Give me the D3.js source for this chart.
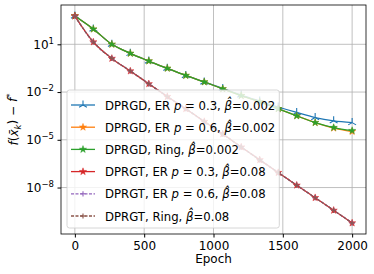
<!doctype html>
<html lang="en">
<head>
<meta charset="UTF-8">
<title>chart</title>
<script src="https://d3js.org/d3.v7.min.js"></script>
<style>
 body{margin:0;background:#fff;}
 text{font-family:"DejaVu Sans",sans-serif;}
</style>
</head>
<body>
<div id="myDiv"></div>
<script>
// data
var epochs = [0, 133.3, 266.7, 400, 533.3, 666.7, 800, 933.3, 1066.7, 1200, 1333.3, 1466.7, 1600, 1733.3, 1866.7, 2000];
var dprgdEr03 = [6.0e2, 9.1e1, 1.0e1, 2.7, 8.9e-1, 3.1e-1, 1.1e-1, 4.3e-2, 1.7e-2, 6.5e-3, 2.7e-3, 1.15e-3, 5.2e-4, 2.5e-4, 1.55e-4, 1.2e-4];
var dprgdEr06 = [6.0e2, 9.1e1, 1.0e1, 2.7, 8.9e-1, 3.1e-1, 1.1e-1, 4.3e-2, 1.6e-2, 6.0e-3, 2.4e-3, 8.9e-4, 3.2e-4, 1.2e-4, 5.4e-5, 3.3e-5];
var dprgdRing = [6.0e2, 9.1e1, 1.0e1, 2.7, 8.9e-1, 3.1e-1, 1.1e-1, 4.3e-2, 1.6e-2, 6.0e-3, 2.4e-3, 8.9e-4, 3.2e-4, 1.2e-4, 5.9e-5, 3.8e-5];
var dprgtEr03 = [6.0e2, 1.4e1, 1.3, 2.1e-1, 3.3e-2, 5.2e-3, 8.9e-4, 1.4e-4, 2.3e-5, 3.5e-6, 5.5e-7, 8.7e-8, 1.4e-8, 2.3e-9, 3.7e-10, 5.9e-11];
var dprgtEr06 = [6.0e2, 1.4e1, 1.3, 2.1e-1, 3.3e-2, 5.2e-3, 8.9e-4, 1.4e-4, 2.3e-5, 3.5e-6, 5.5e-7, 8.7e-8, 1.4e-8, 2.3e-9, 3.7e-10, 5.9e-11];
var dprgtRing = [6.0e2, 1.4e1, 1.3, 2.1e-1, 3.3e-2, 5.2e-3, 8.9e-4, 1.4e-4, 2.3e-5, 3.5e-6, 5.5e-7, 8.7e-8, 1.4e-8, 2.3e-9, 3.7e-10, 5.9e-11];

var xTicks = [0, 500, 1000, 1500, 2000];
var yTicks = [1e1, 1e-2, 1e-5, 1e-8];

var series = [
  {name: ["DPRGD, ER ", "p", " = 0.3, ", "β̂", "=0.002"], values: dprgdEr03, color: "#1f77b4", marker: "tri", dash: null},
  {name: ["DPRGD, ER ", "p", " = 0.6, ", "β̂", "=0.002"], values: dprgdEr06, color: "#ff7f0e", marker: "star", dash: null},
  {name: ["DPRGD, Ring, ", "", "", "β̂", "=0.002"], values: dprgdRing, color: "#2ca02c", marker: "star", dash: null},
  {name: ["DPRGT, ER ", "p", " = 0.3, ", "β̂", "=0.08"], values: dprgtEr03, color: "#d62728", marker: "star", dash: null},
  {name: ["DPRGT, ER ", "p", " = 0.6, ", "β̂", "=0.08"], values: dprgtEr06, color: "#9467bd", marker: "plus", dash: "3,1.5"},
  {name: ["DPRGT, Ring, ", "", "", "β̂", "=0.08"], values: dprgtRing, color: "#8c564b", marker: "plus", dash: "3,1.5"}
];

var W = 374, H = 274;
var margin = {left: 61, right: 8, top: 5, bottom: 40};
var width = W - margin.left - margin.right;
var height = H - margin.top - margin.bottom;
var fs = 12;

var svg = d3.select("#myDiv").append("svg")
  .attr("width", W).attr("height", H);
var g = svg.append("g").attr("transform", "translate(" + margin.left + "," + margin.top + ")");

var xScale = d3.scaleLinear().domain([-100, 2100]).range([0, width]);
var yScale = d3.scaleLog().domain([Math.pow(10, -10.92), Math.pow(10, 3.47)]).range([height, 0]);

// grid
g.selectAll(".gx").data(xTicks).enter().append("line")
  .attr("x1", function(d){ return xScale(d); }).attr("x2", function(d){ return xScale(d); })
  .attr("y1", 0).attr("y2", height)
  .attr("stroke", "#b0b0b0").attr("stroke-width", 0.8);
g.selectAll(".gy").data(yTicks).enter().append("line")
  .attr("y1", function(d){ return yScale(d); }).attr("y2", function(d){ return yScale(d); })
  .attr("x1", 0).attr("x2", width)
  .attr("stroke", "#b0b0b0").attr("stroke-width", 0.8);

// marker symbols
function markerPath(type, s) {
  if (type === "tri") {
    return "M0,0L0," + (-s) + "M0,0L" + (-s*0.87) + "," + (s*0.5) + "M0,0L" + (s*0.87) + "," + (s*0.5);
  }
  if (type === "plus") {
    return "M" + (-s) + ",0L" + s + ",0M0," + (-s) + "L0," + s;
  }
  return d3.symbol().type(d3.symbolStar).size(s * s * 2.2)();
}
function markerSize(type) {
  return type === "tri" ? 4.5 : (type === "plus" ? 2.6 : 2.7);
}

var line = d3.line()
  .x(function(d){ return xScale(d[0]); })
  .y(function(d){ return yScale(d[1]); })
  .curve(d3.curveMonotoneX);

series.forEach(function(s) {
  var pts = epochs.map(function(e, i){ return [e, s.values[i]]; });
  g.append("path").datum(pts)
    .attr("d", line)
    .attr("fill", "none")
    .attr("stroke", s.color)
    .attr("stroke-width", 1.3)
    .attr("stroke-dasharray", s.dash);
  g.selectAll(null).data(pts).enter().append("path")
    .attr("transform", function(d){ return "translate(" + xScale(d[0]) + "," + yScale(d[1]) + ")"; })
    .attr("d", markerPath(s.marker, markerSize(s.marker)))
    .attr("fill", s.marker === "star" ? s.color : "none")
    .attr("stroke", s.color)
    .attr("stroke-width", s.marker === "star" ? 0.5 : 1.1);
});

// axes
var xAxis = d3.axisBottom(xScale).tickValues(xTicks).tickSize(3.5).tickPadding(3.5).tickFormat(d3.format("d"));
var gx = g.append("g").attr("transform", "translate(0," + height + ")").call(xAxis);
gx.select(".domain").remove();
gx.selectAll("text").attr("font-size", fs).attr("fill", "#000").attr("font-family", "DejaVu Sans");

var yAxis = d3.axisLeft(yScale).tickValues(yTicks).tickSize(3.5).tickPadding(3.5).tickFormat(function(){ return ""; });
var gy = g.append("g").call(yAxis);
gy.select(".domain").remove();
gy.selectAll(".tick text").each(function(d) {
  var t = d3.select(this).attr("font-size", fs).attr("fill", "#000").attr("font-family", "DejaVu Sans");
  t.text(null);
  t.append("tspan").text("10");
  t.append("tspan").attr("font-size", 8.5).attr("dy", "-0.6em").text(String(Math.round(Math.log10(d))).replace("-", "−"));
});

// frame
g.append("rect").attr("width", width).attr("height", height)
  .attr("fill", "none").attr("stroke", "#000").attr("stroke-width", 0.8);

// labels
svg.append("text").attr("x", margin.left + width / 2).attr("y", 263)
  .attr("text-anchor", "middle").attr("font-size", fs).text("Epoch");

var yl = svg.append("text").attr("transform", "translate(18," + (margin.top + height / 2) + ") rotate(-90)")
  .attr("text-anchor", "middle").attr("font-size", fs);
yl.append("tspan").attr("font-style", "italic").text("f");
yl.append("tspan").text("(");
yl.append("tspan").attr("font-style", "italic").text("x̄");
yl.append("tspan").attr("font-style", "italic").attr("font-size", 8.5).attr("dy", "0.3em").text("k");
yl.append("tspan").attr("dy", "-0.3em").text(") − ");
yl.append("tspan").attr("font-style", "italic").text("f");
yl.append("tspan").attr("font-size", 8.5).attr("dy", "-0.5em").text("*");

// legend
var lfs = 11.7;
var lg = svg.append("g").attr("transform", "translate(67,90)");
var box = lg.append("rect").attr("height", 138).attr("rx", 2.5)
  .attr("fill", "#fff").attr("fill-opacity", 0.8).attr("stroke", "#cccccc").attr("stroke-width", 0.8);
var maxW = 0;
series.forEach(function(s, i) {
  var y = 15 + i * 22.2;
  lg.append("line").attr("x1", 4).attr("x2", 28).attr("y1", y).attr("y2", y)
    .attr("stroke", s.color).attr("stroke-width", 1.3).attr("stroke-dasharray", s.dash);
  lg.append("path").attr("transform", "translate(16," + y + ")")
    .attr("d", markerPath(s.marker, markerSize(s.marker)))
    .attr("fill", s.marker === "star" ? s.color : "none")
    .attr("stroke", s.color).attr("stroke-width", s.marker === "star" ? 0.5 : 1.1);
  var t = lg.append("text").attr("x", 38).attr("y", y + 4.5).attr("font-size", lfs);
  s.name.forEach(function(part, j) {
    if (part === "") return;
    t.append("tspan").attr("font-style", (j === 1 || j === 3) ? "italic" : null).text(part);
  });
  maxW = Math.max(maxW, t.node().getComputedTextLength());
});
box.attr("width", 38 + maxW + 4);
</script>
</body>
</html>
